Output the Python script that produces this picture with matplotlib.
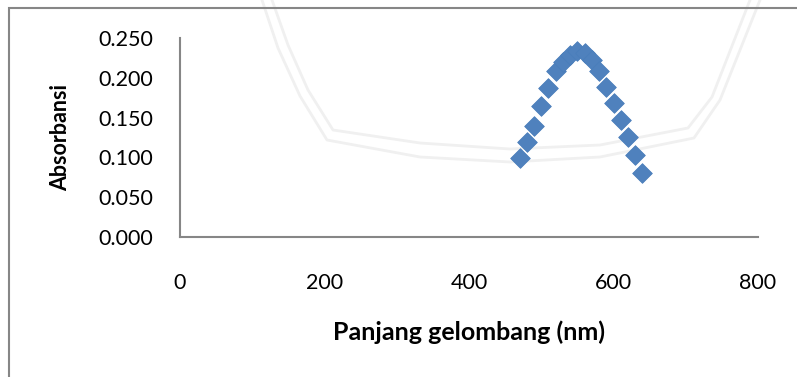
import matplotlib
matplotlib.use("Agg")
import matplotlib.pyplot as plt
from matplotlib.lines import Line2D
from matplotlib.patches import Rectangle
from matplotlib.ticker import FormatStrFormatter

plt.rcParams['font.family'] = ['Lato', 'DejaVu Sans']

# absorbance scan
wavelength = [470, 480, 490, 500, 510, 520, 530, 540, 550,
              560, 570, 580, 590, 600, 610, 620, 630, 640]
absorbance = [0.099, 0.119, 0.139, 0.164, 0.187, 0.208, 0.220, 0.229, 0.234,
              0.231, 0.222, 0.208, 0.189, 0.168, 0.147, 0.126, 0.103, 0.080]
x_ticks = [0, 200, 400, 600, 800]
y_ticks = [0.000, 0.050, 0.100, 0.150, 0.200, 0.250]

W, H = 797, 377
fig = plt.figure(figsize=(W / 100, H / 100), dpi=100)


def px(x, y):
	return x / W, 1 - y / H


# faint logo outline in the background
wm_inner = [(272, 0), (288, 45), (308, 90), (333, 130), (420, 143), (510, 149),
            (600, 145), (688, 128), (712, 97), (750, 0)]
wm_outer = [(262, 0), (278, 48), (300, 96), (327, 140), (420, 157), (510, 162),
            (600, 157), (694, 138), (720, 100), (760, 0)]
for pts in (wm_inner, wm_outer):
	xs, ys = zip(*[px(a, b) for a, b in pts])
	fig.add_artist(Line2D(xs, ys, color='#f0f0f0', lw=2.0, zorder=0))

# chart area border
fig.add_artist(Rectangle(px(9, 400), 1.0, (400 - 8) / H, fill=False,
                         edgecolor='#868686', lw=1.5, zorder=1))

l, b = px(180, 237)
r, t = px(758, 38)
ax = fig.add_axes([l, b, r - l, t - b])
ax.patch.set_alpha(0)

ax.scatter(wavelength, absorbance, marker='D', s=100, color='#4F81BD',
           edgecolors='#4A7EBB', linewidths=0.6, zorder=3, clip_on=False)

ax.set_xlim(0, 800)
ax.set_ylim(0, 0.25)
ax.set_xticks(x_ticks)
ax.set_yticks(y_ticks)
ax.yaxis.set_major_formatter(FormatStrFormatter('%.3f'))
ax.tick_params(length=0, labelsize=15.5, colors='black')
ax.tick_params(axis='x', pad=26)
ax.tick_params(axis='y', pad=19)

for side in ('top', 'right'):
	ax.spines[side].set_visible(False)
for side in ('left', 'bottom'):
	ax.spines[side].set_color('#868686')
	ax.spines[side].set_linewidth(1.5)

ax.set_xlabel('Panjang gelombang (nm)', fontsize=18, fontweight='bold', labelpad=20)
ax.set_ylabel('Absorbansi', fontsize=15.5, fontweight='bold', labelpad=20)

fig.savefig('out.png', dpi=100)
